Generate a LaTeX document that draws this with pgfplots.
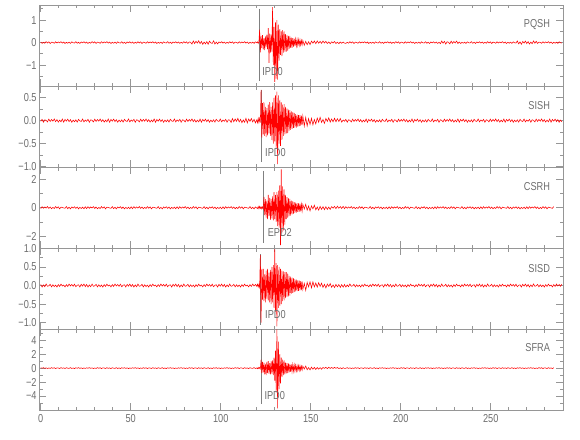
\documentclass[border=0pt]{standalone}
\usepackage{pgfplots}
\usepackage{pgfplotstable}
\pgfplotsset{compat=1.18}
\usepackage{fontspec}
\newfontfamily\hf{Liberation Sans}[FakeStretch=0.8]
\newcommand\lf{\hf\fontsize{11.5bp}{12bp}\selectfont}
\definecolor{axgray}{RGB}{150,150,150}
\definecolor{txtgray}{RGB}{110,110,110}
\definecolor{trace}{RGB}{255,0,0}

\pgfplotstableread{
t a b c d e
0 0.024 -0.014 -0.064 0.028 0.049
0.75 -0.036 0.028 0.072 -0.04 -0.021
1.5 0.012 -0.035 -0.04 0.016 0.07
2.25 -0.028 0.018 0.056 -0.032 -0.042
3 0.04 0.007 -0.024 0.04 0.042
3.75 -0.016 -0.028 0.08 -0.02 -0.063
4.5 0.032 0.032 -0.048 -0.008 0.021
5.25 -0.04 -0.018 0.048 0.032 -0.049
6 0.02 0.025 -0.072 -0.036 0.07
6.75 0.008 -0.011 0.024 0.02 -0.028
7.5 -0.032 0.035 -0.056 -0.028 0.056
8.25 0.036 -0.021 0.08 0.012 -0.07
9 -0.02 0.021 -0.032 -0.04 0.035
9.75 0.028 -0.032 0.064 0.024 0.014
10.5 -0.012 0.011 -0.08 -0.024 -0.056
11.25 0.04 -0.025 0.04 0.036 0.063
12 -0.024 0.035 0.016 -0.012 -0.035
12.75 0.024 -0.035 -0.016 0.012 0.035
13.5 -0.04 0.025 -0.04 -0.036 -0.063
14.25 0.012 -0.011 0.08 0.024 0.056
15 -0.028 0.032 -0.064 -0.024 -0.014
15.75 0.02 -0.021 0.032 0.04 -0.035
16.5 -0.036 0.021 -0.08 -0.012 0.07
17.25 0.032 -0.035 0.056 0.028 -0.056
18 -0.008 0.011 -0.024 -0.02 0.028
18.75 -0.02 -0.025 0.072 0.036 -0.07
19.5 0.04 0.018 -0.048 -0.032 0.049
20.25 -0.032 -0.032 0.048 0.008 -0.021
21 0.016 0.028 -0.08 0.02 0.063
21.75 -0.04 -0.007 0.024 -0.04 -0.042
22.5 0.028 -0.018 -0.056 0.032 0.042
23.25 -0.012 0.035 0.04 -0.016 -0.07
24 0.036 -0.028 -0.072 0.04 0.021
24.75 -0.024 0.014 0.064 -0.028 -0.049
25.5 0.024 -0.014 -0.064 0.028 0.049
26.25 -0.036 0.028 0.072 -0.04 -0.021
27 0.012 -0.035 -0.04 0.016 0.07
27.75 -0.028 0.018 0.056 -0.032 -0.042
28.5 0.04 0.007 -0.024 0.04 0.042
29.25 -0.016 -0.028 0.08 -0.02 -0.063
30 0.032 0.032 -0.048 -0.008 0.021
30.75 -0.04 -0.018 0.048 0.032 -0.049
31.5 0.02 0.025 -0.072 -0.036 0.07
32.25 0.008 -0.011 0.024 0.02 -0.028
33 -0.032 0.035 -0.056 -0.028 0.056
33.75 0.036 -0.021 0.08 0.012 -0.07
34.5 -0.02 0.021 -0.032 -0.04 0.035
35.25 0.028 -0.032 0.064 0.024 0.014
36 -0.012 0.011 -0.08 -0.024 -0.056
36.75 0.04 -0.025 0.04 0.036 0.063
37.5 -0.024 0.035 0.016 -0.012 -0.035
38.25 0.024 -0.035 -0.016 0.012 0.035
39 -0.04 0.025 -0.04 -0.036 -0.063
39.75 0.012 -0.011 0.08 0.024 0.056
40.5 -0.028 0.032 -0.064 -0.024 -0.014
41.25 0.02 -0.021 0.032 0.04 -0.035
42 -0.036 0.021 -0.08 -0.012 0.07
42.75 0.032 -0.035 0.056 0.028 -0.056
43.5 -0.008 0.011 -0.024 -0.02 0.028
44.25 -0.02 -0.025 0.072 0.036 -0.07
45 0.04 0.018 -0.048 -0.032 0.049
45.75 -0.032 -0.032 0.048 0.008 -0.021
46.5 0.016 0.028 -0.08 0.02 0.063
47.25 -0.04 -0.007 0.024 -0.04 -0.042
48 0.028 -0.018 -0.056 0.032 0.042
48.75 -0.012 0.035 0.04 -0.016 -0.07
49.5 0.036 -0.028 -0.072 0.04 0.021
50.25 -0.024 0.014 0.064 -0.028 -0.049
51 0.024 -0.014 -0.064 0.028 0.049
51.75 -0.036 0.028 0.072 -0.04 -0.021
52.5 0.012 -0.035 -0.04 0.016 0.07
53.25 -0.028 0.018 0.056 -0.032 -0.042
54 0.04 0.007 -0.024 0.04 0.042
54.75 -0.016 -0.028 0.08 -0.02 -0.063
55.5 0.032 0.032 -0.048 -0.008 0.021
56.25 -0.04 -0.018 0.048 0.032 -0.049
57 0.02 0.025 -0.072 -0.036 0.07
57.75 0.008 -0.011 0.024 0.02 -0.028
58.5 -0.032 0.035 -0.056 -0.028 0.056
59.25 0.036 -0.021 0.08 0.012 -0.07
60 -0.02 0.021 -0.032 -0.04 0.035
60.75 0.028 -0.032 0.064 0.024 0.014
61.5 -0.012 0.011 -0.08 -0.024 -0.056
62.25 0.04 -0.025 0.04 0.036 0.063
63 -0.024 0.035 0.016 -0.012 -0.035
63.75 0.024 -0.035 -0.016 0.012 0.035
64.5 -0.04 0.025 -0.04 -0.036 -0.063
65.25 0.012 -0.011 0.08 0.024 0.056
66 -0.028 0.032 -0.064 -0.024 -0.014
66.75 0.02 -0.021 0.032 0.04 -0.035
67.5 -0.036 0.021 -0.08 -0.012 0.07
68.25 0.032 -0.035 0.056 0.028 -0.056
69 -0.008 0.011 -0.024 -0.02 0.028
69.75 -0.02 -0.025 0.072 0.036 -0.07
70.5 0.04 0.018 -0.048 -0.032 0.049
71.25 -0.032 -0.032 0.048 0.008 -0.021
72 0.016 0.028 -0.08 0.02 0.063
72.75 -0.04 -0.007 0.024 -0.04 -0.042
73.5 0.028 -0.018 -0.056 0.032 0.042
74.25 -0.012 0.035 0.04 -0.016 -0.07
75 0.036 -0.028 -0.072 0.04 0.021
75.75 -0.024 0.014 0.064 -0.028 -0.049
76.5 0.024 -0.014 -0.064 0.028 0.049
77.25 -0.036 0.028 0.072 -0.04 -0.021
78 0.012 -0.035 -0.04 0.016 0.07
78.75 -0.028 0.018 0.056 -0.032 -0.042
79.5 0.04 0.007 -0.024 0.04 0.042
80.25 -0.016 -0.028 0.08 -0.02 -0.063
81 0.032 0.032 -0.048 -0.008 0.021
81.75 -0.04 -0.018 0.048 0.032 -0.049
82.5 0.03 0.025 -0.072 -0.036 0.07
83.25 0.012 -0.011 0.024 0.02 -0.028
84 -0.064 0.035 -0.056 -0.028 0.056
84.75 0.072 -0.021 0.08 0.012 -0.07
85.5 -0.04 0.021 -0.032 -0.04 0.035
86.25 0.056 -0.032 0.064 0.024 0.014
87 -0.024 0.011 -0.08 -0.024 -0.056
87.75 0.08 -0.025 0.04 0.036 0.063
88.5 -0.048 0.035 0.016 -0.012 -0.035
89.25 0.048 -0.035 -0.016 0.012 0.035
90 -0.08 0.025 -0.04 -0.036 -0.063
90.75 0.024 -0.011 0.08 0.024 0.056
91.5 -0.056 0.032 -0.064 -0.024 -0.014
92.25 0.04 -0.021 0.032 0.04 -0.035
93 -0.072 0.021 -0.08 -0.012 0.07
93.75 0.064 -0.035 0.056 0.028 -0.056
94.5 -0.016 0.011 -0.024 -0.02 0.028
95.25 -0.04 -0.025 0.072 0.036 -0.07
96 0.08 0.018 -0.048 -0.032 0.049
96.75 -0.064 -0.032 0.048 0.008 -0.021
97.5 0.024 0.028 -0.08 0.02 0.063
98.25 -0.06 -0.007 0.024 -0.04 -0.042
99 0.028 -0.018 -0.056 0.032 0.042
99.75 -0.012 0.035 0.04 -0.016 -0.07
100.5 0.036 -0.028 -0.072 0.04 0.021
101.25 -0.024 0.014 0.064 -0.028 -0.049
102 0.024 -0.014 -0.064 0.028 0.049
102.75 -0.036 0.028 0.072 -0.04 -0.021
103.5 0.012 -0.035 -0.04 0.016 0.07
104.25 -0.028 0.018 0.056 -0.032 -0.042
105 0.04 0.01 -0.024 0.04 0.042
105.75 -0.016 -0.039 0.08 -0.02 -0.063
106.5 0.032 0.045 -0.048 -0.008 0.021
107.25 -0.04 -0.025 0.048 0.032 -0.049
108 0.02 0.035 -0.072 -0.036 0.07
108.75 0.008 -0.015 0.024 0.02 -0.028
109.5 -0.032 0.049 -0.056 -0.028 0.056
110.25 0.036 -0.029 0.08 0.012 -0.07
111 -0.02 0.029 -0.032 -0.04 0.035
111.75 0.028 -0.045 0.064 0.024 0.014
112.5 -0.012 0.015 -0.08 -0.024 -0.056
113.25 0.04 -0.035 0.04 0.036 0.063
114 -0.024 0.049 0.016 -0.012 -0.035
114.75 0.024 -0.049 -0.016 0.012 0.035
115.5 -0.04 0.035 -0.04 -0.036 -0.063
116.25 0.012 -0.015 0.08 0.024 0.056
117 -0.028 0.045 -0.064 -0.024 -0.014
117.75 0.02 -0.029 0.032 0.04 -0.035
118.5 -0.036 0.029 -0.08 -0.012 0.07
119.25 0.032 -0.049 0.056 0.028 -0.056
120 -0.008 0.015 -0.024 -0.02 0.028
120.4 0.03 -0.045 -0.06 0.035 -0.09
120.8 -0.04 0.05 0.08 -0.04 0.1
121.2 0.035 -0.04 -0.07 0.03 -0.08
121.6 0.57 0.05 0.09 -0.045 0.09
122.0 -0.44 -0.045 -0.05 0.82 -0.1
122.4 0.3 0.67 0.07 -1.0 1.2
122.8 -0.25 -0.37 -0.08 0.45 -0.7
123.2 0.33 0.38 0.06 -0.38 0.9
123.6 -0.3 -0.3 -0.09 0.45 -0.6
124.0 0.2 0.4 0.77 -0.42 0.8
124.4 -0.34 -0.33 -0.52 0.3 -0.9
124.8 0.28 0.3 0.6 -0.45 0.6
125.2 -0.2 -0.36 -0.7 0.4 -1.0
125.6 0.35 0.27 0.5 -0.35 0.9
126.0 -0.3 -0.32 -0.8 0.45 -0.7
126.4 0.64 0.35 0.9 -0.4 1.0
126.8 -0.9 -0.28 -0.6 0.35 -0.8
127.2 0.4 0.4 0.7 -0.45 0.7
127.6 -0.45 -0.33 -0.85 0.42 -0.9
128.0 0.35 0.3 0.6 -0.5 1.0
128.4 -0.4 -0.42 -0.75 0.5 -0.8
128.8 1.58 0.4 0.8 -0.45 1.1
129.2 -1.0 -0.5 -0.9 0.55 -1.0
129.6 0.7 0.5 1.1 -0.6 1.5
130.0 -1.75 -0.45 -0.8 0.97 -1.8
130.4 0.9 0.55 0.9 -0.7 2.5
130.8 -1.6 -0.6 -1.0 0.6 -3.5
131.2 1.0 0.63 1.1 -1.1 5.55
131.6 -1.65 -0.95 -1.3 0.55 -5.75
132.0 0.8 0.55 1.2 -0.6 3.8
132.4 -0.8 -0.5 -1.4 0.5 -3.0
132.8 0.6 0.45 1.6 -0.55 2.0
133.2 -0.55 -0.55 -2.63 0.45 -2.2
133.6 0.5 0.4 2.7 -0.5 1.5
134.0 -0.6 -0.42 -1.8 0.4 -1.3
134.4 0.55 0.35 1.5 -0.42 1.2
134.8 -0.45 -0.33 -1.6 0.38 -1.0
135.2 0.5 0.36 1.3 -0.4 1.1
135.6 -0.4 -0.3 -1.2 0.36 -0.9
136.0 0.38 0.3 0.9 -0.34 0.8
136.4 -0.4 -0.28 -0.8 0.36 -0.75
136.8 0.32 0.26 0.75 -0.3 0.7
137.2 -0.36 -0.27 -0.7 0.32 -0.72
137.6 0.3 0.24 0.68 -0.29 0.66
138.0 -0.28 -0.22 -0.6 0.26 -0.62
138.4 0.3 0.23 0.62 -0.27 0.6
138.8 -0.24 -0.2 -0.55 0.24 -0.55
139.2 0.22 0.2 0.5 -0.22 0.52
139.6 -0.23 -0.18 -0.46 0.21 -0.5
140.0 0.2 0.18 0.45 -0.2 0.5
140.4 -0.18 -0.16 -0.42 0.19 -0.45
140.8 0.17 0.17 0.4 -0.18 0.46
141.2 -0.16 -0.15 -0.37 0.17 -0.42
141.6 0.16 0.14 0.36 -0.16 0.4
142.0 -0.15 -0.15 -0.34 0.16 -0.4
142.4 0.14 0.13 0.32 -0.15 0.37
142.8 -0.13 -0.13 -0.3 0.14 -0.35
143.2 0.13 0.12 0.3 -0.14 0.34
143.6 -0.12 -0.12 -0.28 0.13 -0.33
144.0 0.12 0.12 0.28 -0.13 0.32
144.4 -0.11 -0.11 -0.26 0.12 -0.3
144.8 0.1 0.11 0.25 -0.12 0.29
145.2 -0.1 -0.1 -0.24 0.11 -0.28
145.6 0.09 0.1 0.23 -0.11 0.27
146.4 -0.117 -0.117 -0.086 0.057 -0.135
147.2 0.055 0.07 0.234 -0.13 0.281
148.0 -0.094 -0.117 -0.173 0.086 -0.229
148.8 0.039 0.044 0.117 -0.035 0.082
149.6 -0.091 -0.083 -0.221 0.099 -0.26
150.4 0.064 0.049 0.125 -0.062 0.14
151.2 -0.025 -0.091 -0.078 0.098 -0.155
152.0 0.07 0.025 0.176 -0.036 0.104
152.8 -0.047 -0.07 -0.146 0.068 -0.195
153.6 0.072 0.055 0.051 -0.042 0.091
154.4 -0.029 -0.036 -0.169 0.078 -0.152
155.2 0.052 0.072 0.094 -0.023 0.062
156.0 -0.033 -0.039 -0.109 0.064 -0.156
156.8 0.065 0.026 0.072 -0.05 0.1
157.6 -0.018 -0.059 -0.143 0.033 -0.043
158.4 0.053 0.047 0.065 -0.065 0.117
159.2 -0.041 -0.018 -0.117 0.039 -0.078
160.0 0.029 0.059 0.047 -0.023 0.117
160.8 -0.052 -0.031 -0.117 0.053 -0.047
161.6 0.035 0.036 0.077 -0.047 0.088
162.4 -0.021 -0.026 -0.033 0.016 -0.052
163.2 0.047 0.052 0.094 -0.055 0.104
164.0 -0.042 -0.025 -0.062 0.031 -0.03
164.8 0.016 0.042 0.104 -0.036 0.088
165.6 -0.049 -0.019 -0.039 0.026 -0.068
166.4 0.028 0.046 0.078 -0.049 0.047
167.2 -0.033 -0.032 -0.049 0.023 -0.091
168.0 0.023 0.013 0.094 -0.042 0.055
168.75 -0.024 -0.014 -0.064 0.028 -0.049
169.5 -0.036 0.028 0.072 -0.04 -0.021
170.25 0.012 -0.035 -0.04 0.016 0.07
171 -0.028 0.018 0.056 -0.032 -0.042
171.75 0.04 0.007 -0.024 0.04 0.042
172.5 -0.016 -0.028 0.08 -0.02 -0.063
173.25 0.032 0.032 -0.048 -0.008 0.021
174 -0.04 -0.018 0.048 0.032 -0.049
174.75 0.02 0.025 -0.072 -0.036 0.07
175.5 0.008 -0.011 0.024 0.02 -0.028
176.25 -0.032 0.035 -0.056 -0.028 0.056
177 0.036 -0.021 0.08 0.012 -0.07
177.75 -0.02 0.021 -0.032 -0.04 0.035
178.5 0.028 -0.032 0.064 0.024 0.014
179.25 -0.012 0.011 -0.08 -0.024 -0.056
180 0.04 -0.025 0.04 0.036 0.063
180.75 -0.024 0.035 0.016 -0.012 -0.035
181.5 0.024 -0.035 -0.016 0.012 0.035
182.25 -0.04 0.025 -0.04 -0.036 -0.063
183 0.012 -0.011 0.08 0.024 0.056
183.75 -0.028 0.032 -0.064 -0.024 -0.014
184.5 0.02 -0.021 0.032 0.04 -0.035
185.25 -0.036 0.021 -0.08 -0.012 0.07
186 0.032 -0.035 0.056 0.028 -0.056
186.75 -0.008 0.011 -0.024 -0.02 0.028
187.5 -0.02 -0.025 0.072 0.036 -0.07
188.25 0.04 0.018 -0.048 -0.032 0.049
189 -0.032 -0.032 0.048 0.008 -0.021
189.75 0.016 0.028 -0.08 0.02 0.063
190.5 -0.04 -0.007 0.024 -0.04 -0.042
191.25 0.028 -0.018 -0.056 0.032 0.042
192 -0.012 0.035 0.04 -0.016 -0.07
192.75 0.036 -0.028 -0.072 0.04 0.021
193.5 -0.024 0.014 0.064 -0.028 -0.049
194.25 0.024 -0.014 -0.064 0.028 0.049
195 -0.036 0.028 0.072 -0.04 -0.021
195.75 0.012 -0.035 -0.04 0.016 0.07
196.5 -0.028 0.018 0.056 -0.032 -0.042
197.25 0.04 0.007 -0.024 0.04 0.042
198 -0.016 -0.028 0.08 -0.02 -0.063
198.75 0.032 0.032 -0.048 -0.008 0.021
199.5 -0.04 -0.018 0.048 0.032 -0.049
200.25 0.02 0.025 -0.072 -0.036 0.07
201 0.008 -0.011 0.024 0.02 -0.028
201.75 -0.032 0.035 -0.056 -0.028 0.056
202.5 0.036 -0.021 0.08 0.012 -0.07
203.25 -0.02 0.021 -0.032 -0.04 0.035
204 0.028 -0.032 0.064 0.024 0.014
204.75 -0.012 0.011 -0.08 -0.024 -0.056
205.5 0.04 -0.025 0.04 0.036 0.063
206.25 -0.024 0.035 0.016 -0.012 -0.035
207 0.024 -0.035 -0.016 0.012 0.035
207.75 -0.04 0.025 -0.04 -0.036 -0.063
208.5 0.012 -0.011 0.08 0.024 0.056
209.25 -0.028 0.032 -0.064 -0.024 -0.014
210 0.02 -0.021 0.032 0.04 -0.035
210.75 -0.036 0.021 -0.08 -0.012 0.07
211.5 0.032 -0.035 0.056 0.028 -0.056
212.25 -0.008 0.011 -0.024 -0.02 0.028
213 -0.02 -0.025 0.072 0.036 -0.07
213.75 0.04 0.018 -0.048 -0.032 0.049
214.5 -0.032 -0.032 0.048 0.008 -0.021
215.25 0.016 0.028 -0.08 0.02 0.063
216 -0.04 -0.007 0.024 -0.04 -0.042
216.75 0.028 -0.018 -0.056 0.032 0.042
217.5 -0.012 0.035 0.04 -0.016 -0.07
218.25 0.036 -0.028 -0.072 0.04 0.021
219 -0.024 0.014 0.064 -0.028 -0.049
219.75 0.024 -0.014 -0.064 0.028 0.049
220.5 -0.036 0.028 0.072 -0.04 -0.021
221.25 0.012 -0.035 -0.04 0.016 0.07
222 -0.048 0.018 0.056 -0.032 -0.042
222.75 0.068 0.007 -0.024 0.04 0.042
223.5 -0.027 -0.028 0.08 -0.02 -0.063
224.25 0.054 0.032 -0.048 -0.008 0.021
225 -0.068 -0.018 0.048 0.032 -0.049
225.75 0.034 0.025 -0.072 -0.036 0.07
226.5 0.014 -0.011 0.024 0.02 -0.028
227.25 -0.054 0.035 -0.056 -0.028 0.056
228 0.061 -0.021 0.08 0.012 -0.07
228.75 -0.034 0.021 -0.032 -0.04 0.035
229.5 0.048 -0.032 0.064 0.024 0.014
230.25 -0.02 0.011 -0.08 -0.024 -0.056
231 0.068 -0.025 0.04 0.036 0.063
231.75 -0.041 0.035 0.016 -0.012 -0.035
232.5 0.024 -0.035 -0.016 0.012 0.035
233.25 -0.04 0.025 -0.04 -0.036 -0.063
234 0.012 -0.011 0.08 0.024 0.056
234.75 -0.028 0.032 -0.064 -0.024 -0.014
235.5 0.02 -0.021 0.032 0.04 -0.035
236.25 -0.036 0.021 -0.08 -0.012 0.07
237 0.032 -0.035 0.056 0.028 -0.056
237.75 -0.008 0.011 -0.024 -0.02 0.028
238.5 -0.02 -0.025 0.072 0.036 -0.07
239.25 0.04 0.018 -0.048 -0.032 0.049
240 -0.032 -0.032 0.048 0.008 -0.021
240.75 0.016 0.028 -0.08 0.02 0.063
241.5 -0.04 -0.007 0.024 -0.04 -0.042
242.25 0.028 -0.018 -0.056 0.032 0.042
243 -0.012 0.035 0.04 -0.016 -0.07
243.75 0.036 -0.028 -0.072 0.04 0.021
244.5 -0.024 0.014 0.064 -0.028 -0.049
245.25 0.024 -0.014 -0.064 0.028 0.049
246 -0.036 0.028 0.072 -0.04 -0.021
246.75 0.012 -0.035 -0.04 0.016 0.07
247.5 -0.028 0.018 0.056 -0.032 -0.042
248.25 0.04 0.007 -0.024 0.04 0.042
249 -0.016 -0.028 0.08 -0.02 -0.063
249.75 0.032 0.032 -0.048 -0.008 0.021
250.5 -0.04 -0.018 0.048 0.032 -0.049
251.25 0.02 0.025 -0.072 -0.036 0.07
252 0.008 -0.011 0.024 0.02 -0.028
252.75 -0.032 0.035 -0.056 -0.028 0.056
253.5 0.036 -0.021 0.08 0.012 -0.07
254.25 -0.02 0.021 -0.032 -0.04 0.035
255 0.028 -0.032 0.064 0.024 0.014
255.75 -0.012 0.011 -0.08 -0.024 -0.056
256.5 0.04 -0.025 0.04 0.036 0.063
257.25 -0.024 0.035 0.016 -0.012 -0.035
258 0.024 -0.035 -0.016 0.012 0.035
258.75 -0.04 0.025 -0.04 -0.036 -0.063
259.5 0.012 -0.011 0.08 0.024 0.056
260.25 -0.028 0.032 -0.064 -0.024 -0.014
261 0.02 -0.021 0.032 0.04 -0.035
261.75 -0.036 0.021 -0.08 -0.012 0.07
262.5 0.032 -0.035 0.056 0.028 -0.056
263.25 -0.008 0.011 -0.024 -0.02 0.028
264 -0.02 -0.025 0.072 0.036 -0.07
264.75 0.072 0.018 -0.048 -0.032 0.049
265.5 -0.058 -0.032 0.048 0.008 -0.021
266.25 0.029 0.028 -0.08 0.02 0.063
267 -0.072 -0.007 0.024 -0.04 -0.042
267.75 0.05 -0.018 -0.056 0.032 0.042
268.5 -0.022 0.035 0.04 -0.016 -0.07
269.25 0.065 -0.028 -0.072 0.04 0.021
270 -0.043 0.014 0.064 -0.028 -0.049
270.75 0.043 -0.014 -0.064 0.028 0.049
271.5 -0.065 0.028 0.072 -0.04 -0.021
272.25 0.022 -0.035 -0.04 0.016 0.07
273 -0.05 0.018 0.056 -0.032 -0.042
273.75 0.072 0.007 -0.024 0.04 0.042
274.5 -0.029 -0.028 0.08 -0.02 -0.063
275.25 0.058 0.032 -0.048 -0.008 0.021
276 -0.04 -0.018 0.048 0.032 -0.049
276.75 0.02 0.025 -0.072 -0.036 0.07
277.5 0.008 -0.011 0.024 0.02 -0.028
278.25 -0.032 0.035 -0.056 -0.028 0.056
279 0.036 -0.021 0.08 0.012 -0.07
279.75 -0.02 0.021 -0.032 -0.04 0.035
280.5 0.028 -0.032 0.064 0.024 0.014
281.25 -0.012 0.011 -0.08 -0.024 -0.056
282 0.04 -0.025 0.04 0.036 0.063
282.75 -0.024 0.035 0.016 -0.012 -0.035
283.5 0.024 -0.035 -0.016 0.012 0.035
284.25 -0.04 0.025 -0.04 -0.036 -0.063
285 0.012 -0.011 0.08 0.024 0.056
285.75 -0.028 0.032 nan -0.024 nan
286.5 0.02 -0.021 nan 0.04 nan
287.25 -0.036 0.021 nan -0.012 nan
288 0.032 -0.035 nan 0.028 nan
288.75 -0.008 0.011 nan -0.02 nan
289.5 -0.02 -0.025 nan 0.036 nan
}\seis

\pgfplotsset{
  seis/.style={
    scale only axis, width=524bp, height=81bp,
    anchor=north west,
    xmin=-0.8, xmax=290.3,
    axis line style={axgray, line width=0.8bp},
    every tick/.style={axgray, line width=0.8bp},
    major tick length=7bp, minor tick length=3.5bp,
    xtick={0,50,100,150,200,250},
    minor xtick={10,20,30,40,60,70,80,90,110,120,130,140,160,170,180,190,210,220,230,240,260,270,280},
    xticklabels={},
    tick label style={font=\lf, text=txtgray},
    yticklabel style={inner sep=0pt, xshift=-2.5bp},
    xticklabel style={inner sep=0pt, yshift=-4bp},
    unbounded coords=discard,
  },
  tr/.style={trace, line width=0.55bp},
  mk/.style={axgray!85!black, line width=0.8bp},
}

\begin{document}
\begin{tikzpicture}
% Panel 1 PQSH
\begin{axis}[seis, at={(0bp,0bp)},
  ymin=-1.93, ymax=1.67,
  ytick={-1,0,1}, yticklabels={−1,0,1},
  minor ytick={-1.5,-0.5,0.5,1.5}]
\addplot[mk] coordinates {(121.3,1.5) (121.3,-1.72)};
\addplot[tr] table[x=t,y=a] {\seis};
\node[anchor=west, inner sep=0pt, font=\lf, text=txtgray] at (axis cs:123,-1.28) {IPD0};
\node[anchor=east, inner sep=0pt, font=\lf, text=txtgray] at (axis cs:283,0.78) {PQSH};
\end{axis}
% Panel 2 SISH
\begin{axis}[seis, at={(0bp,-81bp)},
  ymin=-1.01, ymax=0.754,
  ytick={-1,-0.5,0,0.5}, yticklabels={−1.0,−0.5,0.0,0.5},
  minor ytick={-0.75,-0.25,0.25}]
\addplot[mk] coordinates {(122.4,0.67) (122.4,-0.91)};
\addplot[tr] table[x=t,y=b] {\seis};
\node[anchor=west, inner sep=0pt, font=\lf, text=txtgray] at (axis cs:124.6,-0.69) {IPD0};
\node[anchor=east, inner sep=0pt, font=\lf, text=txtgray] at (axis cs:283,0.32) {SISH};
\end{axis}
% Panel 3 CSRH
\begin{axis}[seis, at={(0bp,-162bp)},
  ymin=-2.84, ymax=2.87,
  ytick={-2,0,2}, yticklabels={−2,0,2},
  minor ytick={-1,1}]
\addplot[mk] coordinates {(123.7,2.59) (123.7,-2.48)};
\addplot[tr] table[x=t,y=c] {\seis};
\node[anchor=west, inner sep=0pt, font=\lf, text=txtgray] at (axis cs:126,-1.78) {EPD2};
\node[anchor=east, inner sep=0pt, font=\lf, text=txtgray] at (axis cs:283,1.48) {CSRH};
\end{axis}
% Panel 4 SISD
\begin{axis}[seis, at={(0bp,-243bp)},
  ymin=-1.17, ymax=1.01,
  ytick={-1,-0.5,0,0.5,1}, yticklabels={−1.0,−0.5,0.0,0.5,1.0},
  minor ytick={-0.75,-0.25,0.25,0.75}]
\addplot[mk] coordinates {(122.0,0.84) (122.0,-1.05)};
\addplot[tr] table[x=t,y=d] {\seis};
\node[anchor=west, inner sep=0pt, font=\lf, text=txtgray] at (axis cs:124.6,-0.77) {IPD0};
\node[anchor=east, inner sep=0pt, font=\lf, text=txtgray] at (axis cs:283,0.47) {SISD};
\end{axis}
% Panel 5 SFRA
\begin{axis}[seis, at={(0bp,-324bp)},
  ymin=-6.0, ymax=5.6,
  ytick={-4,-2,0,2,4}, yticklabels={−4,−2,0,2,4},
  minor ytick={-5,-3,-1,1,3,5},
  xticklabels={0,50,100,150,200,250}]
\addplot[mk] coordinates {(122.4,5.6) (122.4,-5.2)};
\addplot[tr] table[x=t,y=e] {\seis};
\node[anchor=west, inner sep=0pt, font=\lf, text=txtgray] at (axis cs:124.2,-3.94) {IPD0};
\node[anchor=east, inner sep=0pt, font=\lf, text=txtgray] at (axis cs:283,2.94) {SFRA};
\end{axis}
\pgfresetboundingbox
\useasboundingbox (-39.3bp,5bp) rectangle (540.7bp,-435bp);
\end{tikzpicture}
\end{document}
